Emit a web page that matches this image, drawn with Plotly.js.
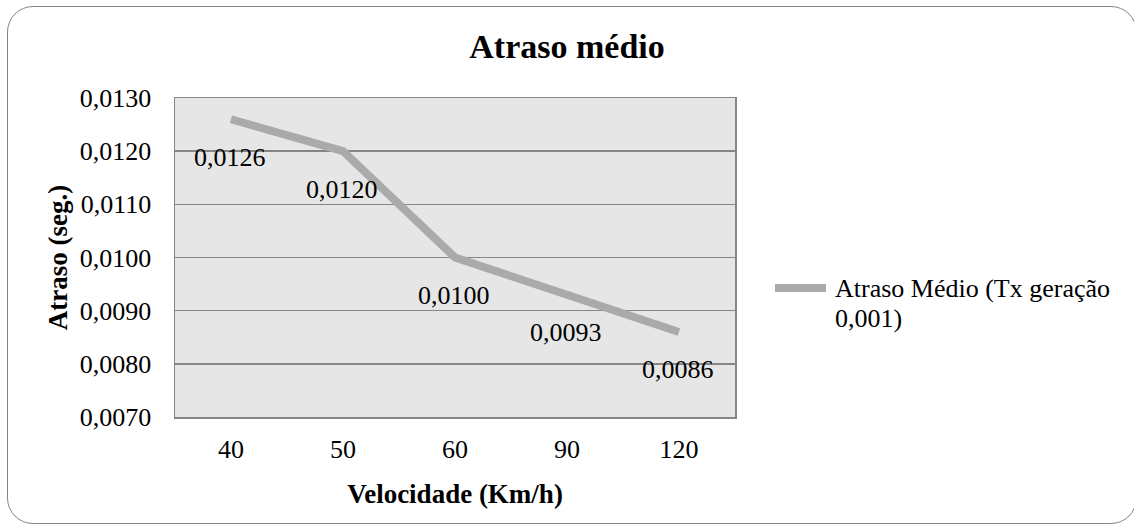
<!DOCTYPE html>
<html><head><meta charset="utf-8">
<script src="https://cdn.plot.ly/plotly-3.0.1.min.js"></script>
<style>
html,body{margin:0;padding:0;background:#fff;}
#wrap{position:relative;width:1134px;height:531px;}
#chart{position:absolute;left:0;top:0;width:1134px;height:531px;}
#frame{position:absolute;left:7px;top:6px;width:1130px;height:518px;border:1.5px solid #858585;border-radius:26px;pointer-events:none;box-sizing:border-box;}
</style>
</head><body>
<div id="wrap"><div id="chart"></div><div id="frame"></div></div>
<script>
const categories = ["40", "50", "60", "90", "120"];
const values = [0.0126, 0.0120, 0.0100, 0.0093, 0.0086];
const labels = ["0,0126", "0,0120", "0,0100", "0,0093", "0,0086"];
const yTicks = [0.007, 0.008, 0.009, 0.010, 0.011, 0.012, 0.013];
const yTickText = ["0,0070", "0,0080", "0,0090", "0,0100", "0,0110", "0,0120", "0,0130"];
const seriesNameLines = ["Atraso Médio (Tx geração", "0,001)"];

const font = "'Liberation Serif', serif";
const lineColor = "#aaaaaa";

const trace = {
  x: categories, y: values, type: "scatter", mode: "lines",
  name: seriesNameLines.join(" "),
  line: {color: lineColor, width: 8},
  hoverinfo: "skip", showlegend: false
};

const annotations = categories.map((c, i) => ({
  x: i, y: values[i], xref: "x", yref: "y",
  text: labels[i], showarrow: false, yshift: -38, xshift: -1,
  font: {family: font, size: 26, color: "#000"}
}));

// manual legend (text)
seriesNameLines.forEach((t, k) => {
  annotations.push({
    xref: "paper", yref: "paper", x: (833 - 175) / 560, y: (417 - (288 + 30 * k)) / 319,
    xanchor: "left", yanchor: "middle", text: t, showarrow: false,
    font: {family: font, size: 26, color: "#000"}
  });
});

const shapes = [{
  type: "line", xref: "paper", yref: "paper",
  x0: (775 - 175) / 560, x1: (826 - 175) / 560,
  y0: (417 - 288) / 319, y1: (417 - 288) / 319,
  line: {color: lineColor, width: 8}
}];

const layout = {
  width: 1134, height: 531,
  margin: {l: 175, r: 399, t: 98, b: 114},
  paper_bgcolor: "#ffffff", plot_bgcolor: "#e6e6e6",
  font: {family: font, size: 26, color: "#000"},
  title: {text: "<b>Atraso médio</b>", x: 0.5, xref: "container", y: 1 - 46 / 531, yref: "container", yanchor: "middle",
          font: {family: font, size: 34, color: "#000"}},
  xaxis: {
    type: "category", range: [-0.5, 4.5], autorange: false, showgrid: false, zeroline: false,
    showline: true, linecolor: "#868686", linewidth: 1.5, mirror: true,
    ticks: "", ticklabelstandoff: 8,
    tickfont: {family: font, size: 26},
    title: {text: "<b>Velocidade (Km/h)</b>", standoff: 21, font: {family: font, size: 27}}
  },
  yaxis: {
    range: [0.007, 0.013], autorange: false, tickvals: yTicks, ticktext: yTickText,
    showgrid: true, gridcolor: "#868686", gridwidth: 1.5, zeroline: false,
    showline: true, linecolor: "#868686", linewidth: 1.5, mirror: true,
    ticks: "", ticklabelstandoff: 17,
    tickfont: {family: font, size: 26},
    title: {text: "<b>Atraso (seg.)</b>", standoff: 4, font: {family: font, size: 27}}
  },
  showlegend: false,
  annotations: annotations,
  shapes: shapes
};

Plotly.newPlot("chart", [trace], layout, {displayModeBar: false, staticPlot: true});
</script>
</body></html>
